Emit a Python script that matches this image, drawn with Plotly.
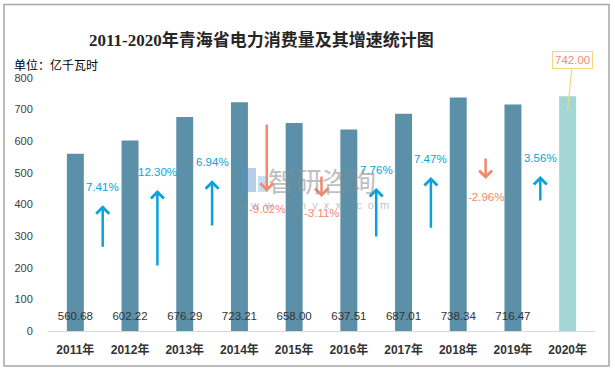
import plotly.graph_objects as go

years = ["2011年", "2012年", "2013年", "2014年", "2015年", "2016年", "2017年", "2018年", "2019年", "2020年"]
consumption = [560.68, 602.22, 676.29, 723.21, 658.00, 637.51, 687.01, 738.34, 716.47, 742.00]
growth_labels = ["7.41%", "12.30%", "6.94%", "-9.02%", "-3.11%", "7.76%", "7.47%", "-2.96%", "3.56%"]
growth = [7.41, 12.30, 6.94, -9.02, -3.11, 7.76, 7.47, -2.96, 3.56]
arrow_tail = [262, 202, 329, 658, 493, 294, 322, 550, 408]
arrow_tip = [398, 446, 477, 440, 424, 452, 487, 481, 490]
label_y = [455, 503, 534, 386, 373, 509, 544, 424, 547]

BAR = "#5B90A8"
BAR_LAST = "#A3D7D5"
UP = "#0AA2DC"
DOWN = "#F2896E"
FONT = "Liberation Sans, Noto Sans CJK SC, sans-serif"

xs = list(range(len(years)))
colors = [BAR] * (len(years) - 1) + [BAR_LAST]

fig = go.Figure()
fig.add_trace(go.Bar(x=xs, y=consumption, marker_color=colors, width=0.31,
                     marker_line_width=0, hoverinfo="skip"))

# value labels at bar base (all but the last)
fig.add_trace(go.Scatter(x=xs[:-1], y=[44] * (len(xs) - 1), mode="text",
                         text=[f"{v:.2f}" for v in consumption[:-1]],
                         textfont=dict(family=FONT, size=11.5, color="#333333"),
                         hoverinfo="skip"))

ann = []
for i, g in enumerate(growth):
    xm = i + 0.5
    col = UP if g >= 0 else DOWN
    ann.append(dict(x=xm, y=arrow_tip[i], ax=xm, ay=arrow_tail[i], xref="x", yref="y",
                    axref="x", ayref="y", text="", showarrow=True, arrowhead=4,
                    arrowsize=1.0, arrowwidth=2.5, arrowcolor=col, standoff=0))
    ann.append(dict(x=xm, y=label_y[i], xref="x", yref="y", text=growth_labels[i],
                    showarrow=False, font=dict(family=FONT, size=11.5, color=col)))

# callout for 2020
ann.append(dict(x=9, y=700, xref="x", yref="y", ax=5, ay=-50, text=f"{consumption[-1]:.2f}",
                showarrow=True, arrowhead=0, arrowwidth=1.2, arrowcolor="#F7D483",
                bordercolor="#F7D483", borderwidth=1, borderpad=2, bgcolor="white",
                font=dict(family=FONT, size=11.5, color="#F2897E")))

# title & unit
ann.append(dict(x=(261 - 48) / 547, y=(331 - 28) / 253, xref="paper", yref="paper",
                text="<b>2011-2020年青海省电力消费量及其增速统计图</b>", showarrow=False,
                font=dict(family="Liberation Serif, Noto Sans CJK SC, serif", size=17, color="#262626")))
ann.append(dict(x=(12 - 48) / 547, y=(331 - 54) / 253, xref="paper", yref="paper",
                xanchor="left", text="单位：亿千瓦时", showarrow=False,
                font=dict(family="Noto Sans CJK SC, sans-serif", size=12, color="#000000")))

# watermark
ann.append(dict(x=(322 - 48) / 547, y=(331 - 180) / 253, xref="paper", yref="paper",
                text="智研咨询", showarrow=False, opacity=0.55,
                font=dict(family="Noto Sans CJK SC, sans-serif", size=27, color="#8c8c8c")))
ann.append(dict(x=(312 - 48) / 547, y=(331 - 205) / 253, xref="paper", yref="paper",
                text="w  w  w  .  c  h  y  x  x  .  c  o  m", showarrow=False, opacity=0.5,
                font=dict(family=FONT, size=11, color="#8c8c8c")))

shapes = [
    dict(type="rect", xref="paper", yref="paper",
         x0=(4 - 48) / 547, x1=(609 - 48) / 547, y0=(331 - 366) / 253, y1=(331 - 4.5) / 253,
         line=dict(color="#A6A6A6", width=1.5)),
    # watermark logo
    dict(type="rect", xref="paper", yref="paper",
         x0=(243 - 48) / 547, x1=(256 - 48) / 547, y0=(331 - 192) / 253, y1=(331 - 168) / 253,
         fillcolor="rgba(91,144,200,0.45)", line=dict(width=0)),
    dict(type="rect", xref="paper", yref="paper",
         x0=(258 - 48) / 547, x1=(268 - 48) / 547, y0=(331 - 192) / 253, y1=(331 - 176) / 253,
         fillcolor="rgba(120,190,230,0.45)", line=dict(width=0)),
]

fig.update_layout(
    width=615, height=371,
    margin=dict(l=48, r=20, t=78, b=40),
    paper_bgcolor="white", plot_bgcolor="white",
    showlegend=False,
    annotations=ann, shapes=shapes,
    xaxis=dict(tickmode="array", tickvals=xs, ticktext=[f"<b>{y}</b>" for y in years],
               range=[-0.5, 9.5], showgrid=False, zeroline=False,
               showline=True, linecolor="#D9D9D9", linewidth=1,
               ticks="outside", ticklen=8, tickcolor="rgba(0,0,0,0)",
               tickfont=dict(family=FONT, size=12, color="#333333")),
    yaxis=dict(range=[0, 800], tickvals=list(range(0, 801, 100)), showgrid=False,
               zeroline=False, showline=False, ticks="outside", ticklen=12,
               tickcolor="rgba(0,0,0,0)",
               tickfont=dict(family=FONT, size=11, color="#404040")),
)

fig.write_html("out.html", config={"displayModeBar": False},
               post_script="document.body.style.margin='0';")
